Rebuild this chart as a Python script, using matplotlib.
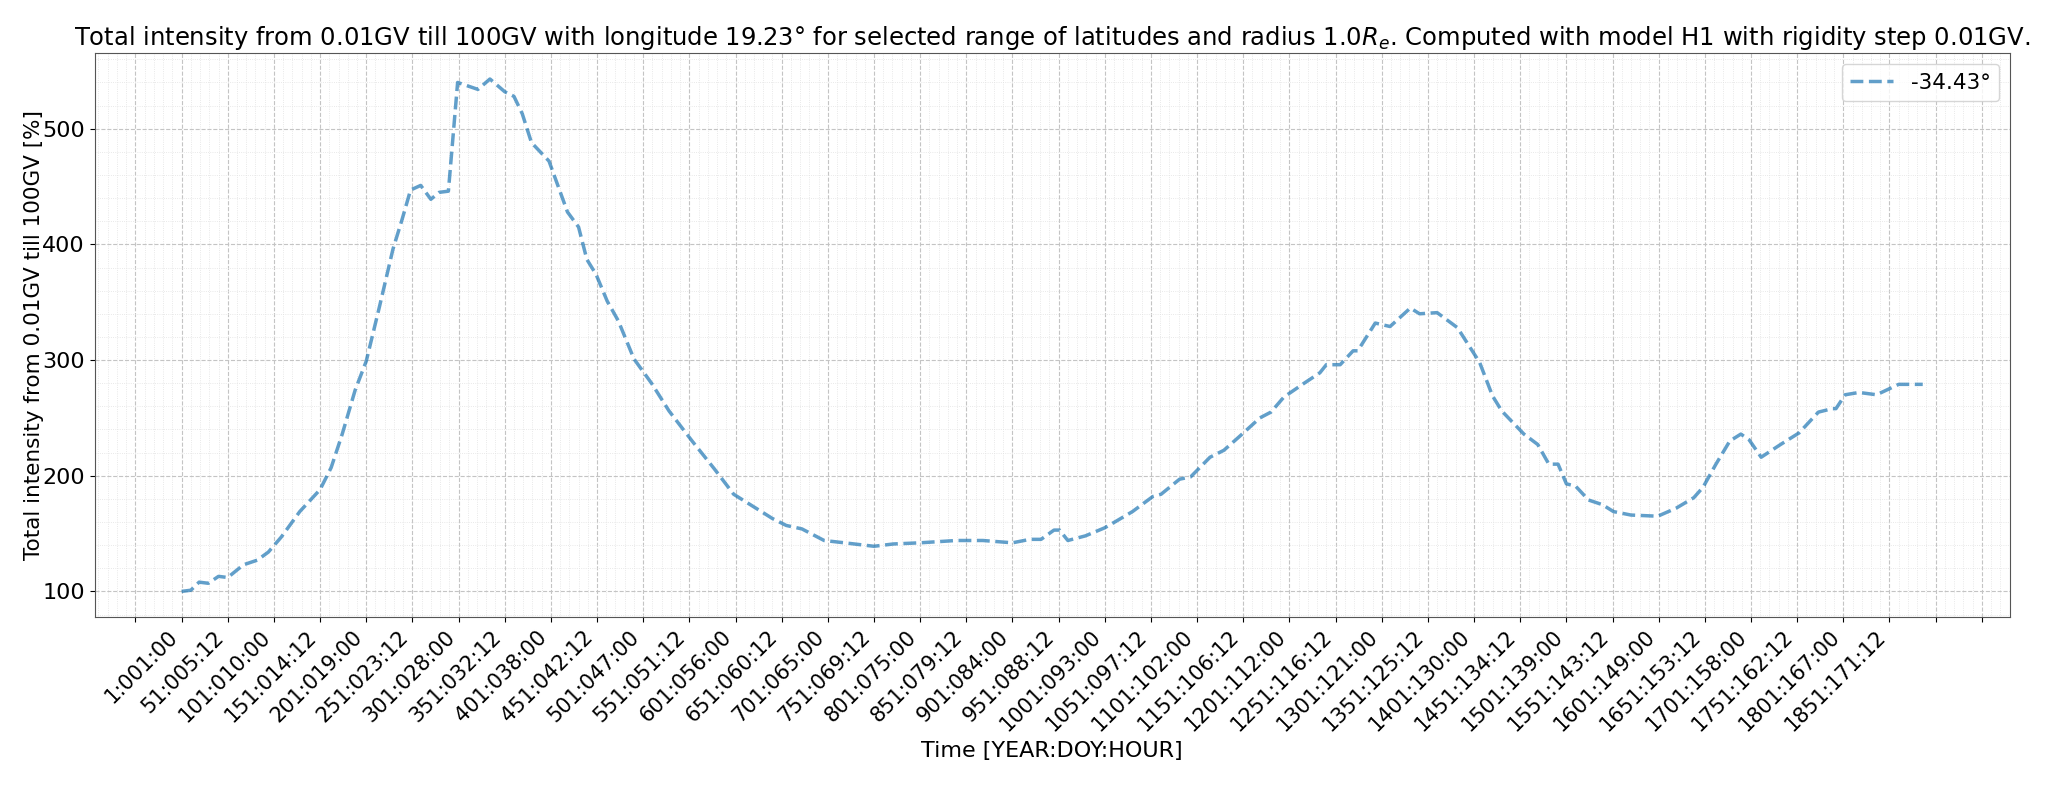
import numpy as np
import matplotlib
matplotlib.use("Agg")
import matplotlib.pyplot as plt

# sample index along the time series and total intensity [%]
step = [0, 10, 19, 29, 40, 50, 67, 82, 94, 108, 128, 150, 162, 174, 188, 200,
        214, 229, 239, 248, 259, 270, 279, 289, 299, 321, 334, 350, 360, 369,
        379, 398, 418, 430, 439, 449, 461, 473, 490, 509, 528, 553, 577, 598,
        620, 640, 655, 672, 696, 718, 750, 771, 800, 839, 868, 900, 919, 931,
        945, 951, 960, 979, 1000, 1013, 1030, 1052, 1061, 1081, 1093, 1114,
        1129, 1146, 1168, 1180, 1194, 1216, 1233, 1240, 1255, 1269, 1274, 1293,
        1309, 1331, 1341, 1360, 1382, 1406, 1420, 1430, 1454, 1469, 1481, 1491,
        1500, 1510, 1524, 1539, 1551, 1570, 1599, 1619, 1638, 1648, 1662, 1677,
        1689, 1698, 1711, 1732, 1752, 1773, 1788, 1792, 1802, 1817, 1836, 1860,
        1886]
intensity = [100, 101, 108, 107, 113, 112, 123, 127, 134, 147, 169, 188, 207,
             236, 274, 299, 345, 396, 422, 447, 451, 439, 445, 446, 540, 534,
             543, 532, 528, 513, 488, 472, 428, 415, 387, 374, 351, 334, 301,
             280, 256, 230, 206, 184, 173, 163, 157, 154, 144, 142, 139, 141,
             142, 144, 144, 142, 145, 145, 153, 153, 144, 148, 155, 161, 169,
             182, 184, 197, 199, 216, 222, 234, 250, 255, 268, 280, 289, 296,
             296, 308, 308, 332, 329, 345, 340, 341, 328, 298, 269, 256, 236,
             227, 210, 210, 193, 191, 179, 175, 169, 166, 165, 172, 181, 190,
             210, 230, 236, 231, 216, 227, 237, 255, 258, 258, 270, 272, 270,
             279, 279]

tick_labels = ["1:001:00", "51:005:12", "101:010:00", "151:014:12", "201:019:00",
               "251:023:12", "301:028:00", "351:032:12", "401:038:00", "451:042:12",
               "501:047:00", "551:051:12", "601:056:00", "651:060:12", "701:065:00",
               "751:069:12", "801:075:00", "851:079:12", "901:084:00", "951:088:12",
               "1001:093:00", "1051:097:12", "1101:102:00", "1151:106:12",
               "1201:112:00", "1251:116:12", "1301:121:00", "1351:125:12",
               "1401:130:00", "1451:134:12", "1501:139:00", "1551:143:12",
               "1601:149:00", "1651:153:12", "1701:158:00", "1751:162:12",
               "1801:167:00", "1851:171:12"]

fig, ax = plt.subplots(figsize=(20.55, 7.85), dpi=100)
fig.subplots_adjust(left=0.046, right=0.978, top=0.932, bottom=0.214)

ax.plot(step, intensity, "--", color="#1f77b4", alpha=0.7, lw=2.5, label="-34.43°")

ticks = np.arange(-50, 2000, 50)
labels = [""] + tick_labels + [""] * (len(ticks) - len(tick_labels) - 1)
ax.set_xticks(ticks)
ax.set_xticklabels(labels, rotation=45, ha="right", fontsize=15)
ax.tick_params(axis="y", labelsize=16)

ax.minorticks_on()
ax.grid(which="major", linestyle="--", color="#c4c4c4", lw=0.8)
ax.grid(which="minor", linestyle=":", color="#e2e2e2", lw=0.6)
ax.tick_params(which="minor", length=0)
for s in ax.spines.values():
    s.set_color("#555555")

ax.set_xlabel("Time [YEAR:DOY:HOUR]", fontsize=16)
ax.set_ylabel("Total intensity from 0.01GV till 100GV [%]", fontsize=15.5, labelpad=-1.5)
ax.set_title("Total intensity from 0.01GV till 100GV with longitude 19.23° for selected "
             "range of latitudes and radius 1.0$R_e$. Computed with model H1 with "
             "rigidity step 0.01GV.", fontsize=17.5)
ax.legend(loc="upper right", fontsize=15.5)

plt.savefig("out.png")
